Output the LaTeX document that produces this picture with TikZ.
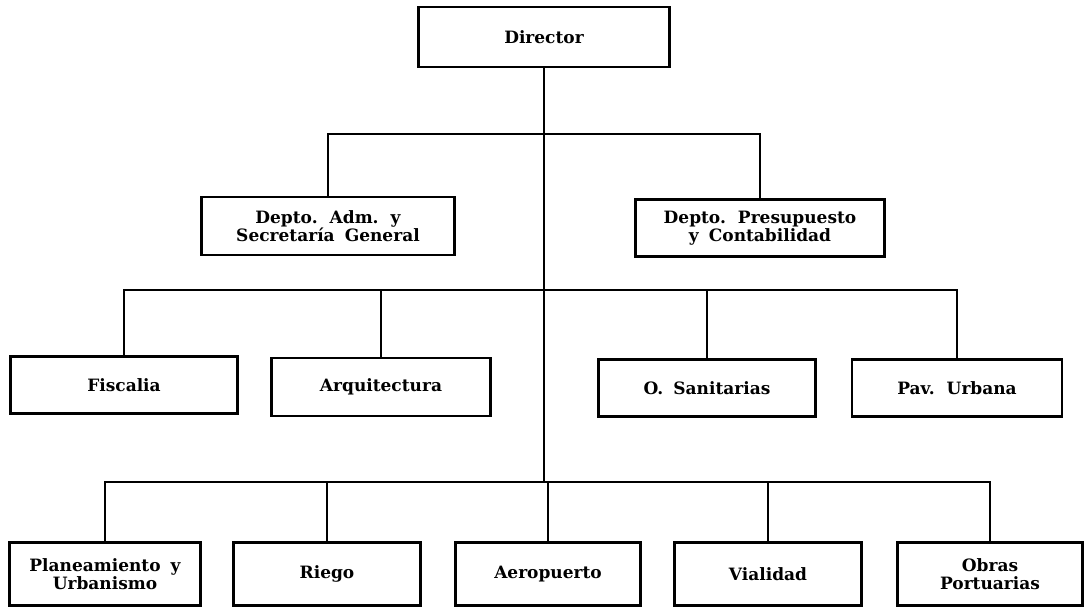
\documentclass[tikz,border=0pt]{standalone}
\usepackage{fontspec}
\setmainfont{DejaVu Serif}[WordSpace=1.7]
\usepackage{tikz}
\usetikzlibrary{calc, positioning}

\begin{document}
\begin{tikzpicture}[x=0.5pt, y=-0.5pt,
    unit/.style={draw, line width=1.1pt, inner sep=0pt, align=center,
        font=\fontsize{8.5}{9}\selectfont\bfseries},
    link/.style={line width=0.8pt}]
        \useasboundingbox (0,0) rectangle (1085,607);

        % Director
        \node[unit, minimum width=125.5pt, minimum height=30pt] (dir) at (544,37) {Director};

        % Departamentos
        \node[unit, minimum width=126.5pt, minimum height=29pt] (adm) at (328,226) {Depto. Adm. y\\Secretaría General};
        \node[unit, minimum width=124.5pt, minimum height=28.5pt] (pres) at (760,228) {Depto. Presupuesto\\y Contabilidad};

        % Second row
        \node[unit, minimum width=113.5pt, minimum height=28.5pt] (fis) at (124,385) {Fiscalia};
        \node[unit, minimum width=109.5pt, minimum height=29pt] (arq) at (381,387) {Arquitectura};
        \node[unit, minimum width=108.5pt, minimum height=28.5pt] (san) at (707,388) {O. Sanitarias};
        \node[unit, minimum width=105pt, minimum height=28.5pt] (pav) at (957,388) {Pav. Urbana};

        % Third row
        \node[unit, minimum width=95.5pt, minimum height=31.5pt] (plan) at (105,574) {Planeamiento y\\Urbanismo};
        \node[unit, minimum width=93.5pt, minimum height=31.5pt] (rie) at (327,574) {Riego};
        \node[unit, minimum width=92.5pt, minimum height=31.5pt] (aer) at (548,574) {Aeropuerto};
        \node[unit, minimum width=93.5pt, minimum height=31.5pt] (via) at (768,574) {Vialidad};
        \node[unit, minimum width=92.5pt, minimum height=31.5pt] (obr) at (990,574) {Obras\\Portuarias};

        % Junctions on the main line
        \coordinate (j1) at ($(dir.south)+(0,66)$);
        \coordinate (j2) at (dir.south |- 0,290);
        \coordinate (j3) at (dir.south |- 0,482);

        % Main line
        \draw[link] (dir.south) -- (j3);

        % Bars
        \draw[link] (adm.north) |- (j1) -| (pres.north);
        \draw[link] (fis.north) |- (j2) -| (pav.north);
        \draw[link] (plan.north) |- (j3) -| (obr.north);

        % Branches
        \foreach \n in {arq, san}
            \draw[link] (\n.north) -- (\n.north |- j2);
        \foreach \n in {rie, aer, via}
            \draw[link] (\n.north) -- (\n.north |- j3);
    \end{tikzpicture}
\end{document}
